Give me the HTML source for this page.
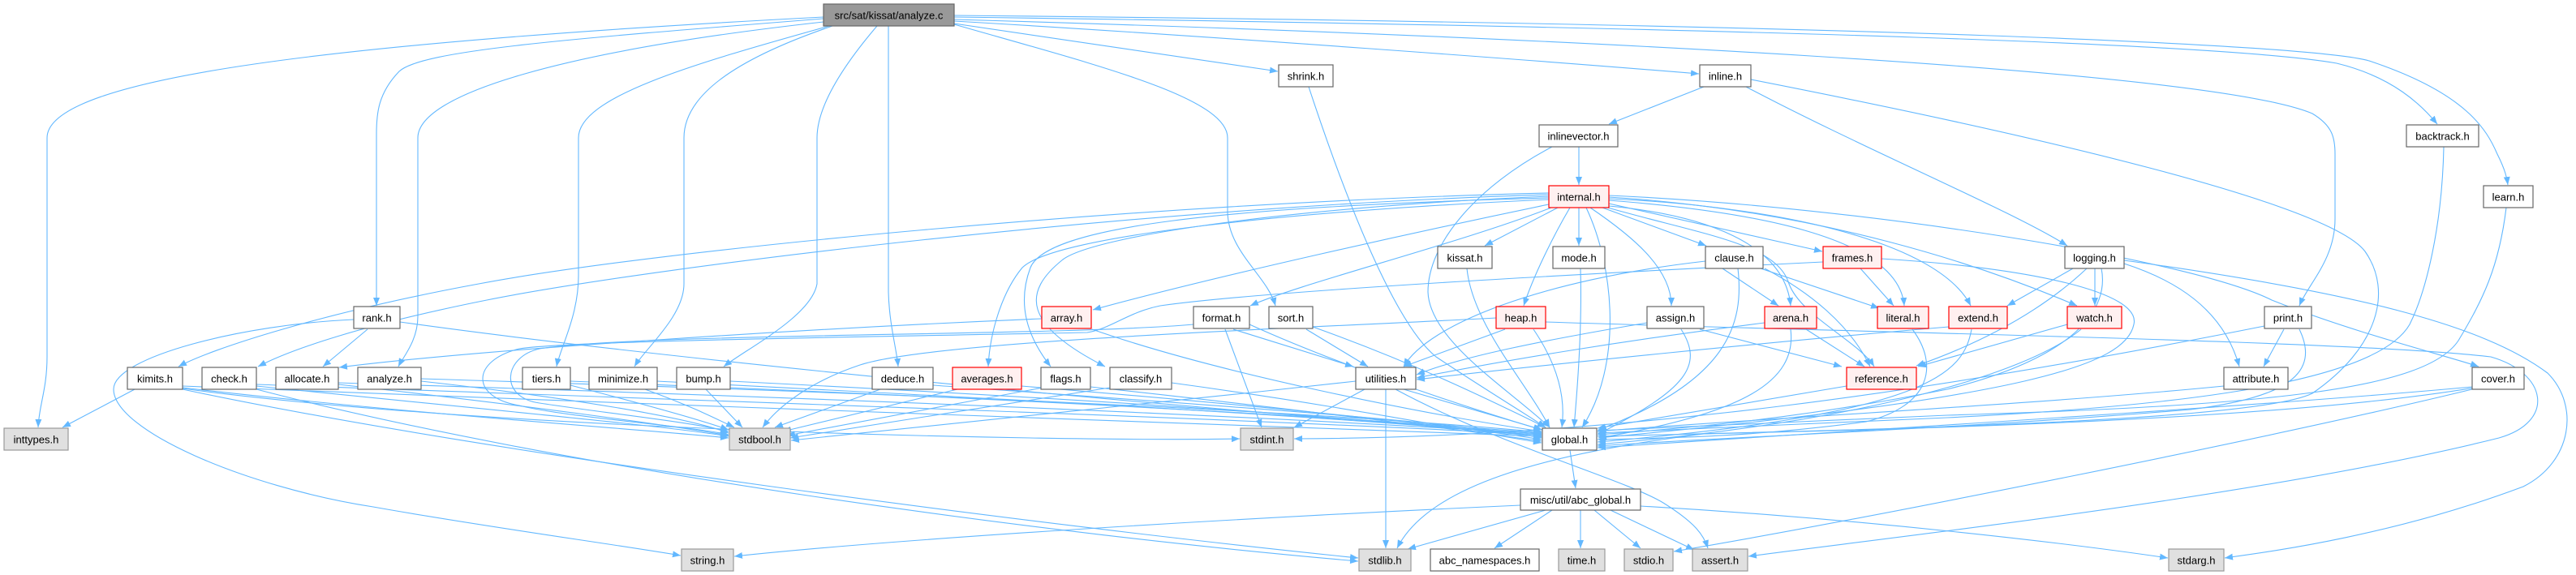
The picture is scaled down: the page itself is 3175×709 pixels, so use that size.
<!DOCTYPE html>
<html><head><meta charset="utf-8"><style>
html,body{margin:0;padding:0;background:#fff;}
svg{display:block;}
text{font-family:"Liberation Sans",Arial,sans-serif;font-size:13px;fill:#000;text-anchor:middle;}
.e{fill:none;stroke:#63B8FF;stroke-width:1.1;marker-end:url(#a);}
.n{fill:#fff;stroke:#666;stroke-width:1.2;}
.r{fill:#FFF0F0;stroke:#ff0000;stroke-width:1.2;}
.g{fill:#E0E0E0;stroke:#999;stroke-width:1.2;}
.m{fill:#999;stroke:#666;stroke-width:1.2;}
</style></head><body>
<svg width="3175" height="709" viewBox="0 0 3175 709" xmlns="http://www.w3.org/2000/svg">
<defs><marker id="a" markerWidth="11" markerHeight="8" refX="10" refY="4" orient="auto" markerUnits="userSpaceOnUse"><path d="M0,0 L10,4 L0,8 z" fill="#63B8FF"/></marker></defs>
<g>
<!-- analyze.c -->
<path class="e" d="M1015,21 C 420,52 58,95 58,170 L 58,440 C 58,480 48,500 47,527"/>
<path class="e" d="M1015,23 C 700,48 520,62 492,88 C 466,115 464,140 464,165 L 464,377"/>
<path class="e" d="M1015,27 C 700,62 515,115 515,170 L 515,390 C 515,420 497,440 491,452"/>
<path class="e" d="M1022,32 C 850,80 713,120 713,170 L 713,340 C 713,390 690,430 686,452"/>
<path class="e" d="M1026,32 C 900,75 843,120 843,170 L 843,350 C 843,390 795,430 782,452"/>
<path class="e" d="M1081,32 C 1040,80 1007,130 1007,170 L 1007,350 C 1000,390 920,430 892,452"/>
<path class="e" d="M1095,32 L 1095,360 C 1096,400 1105,430 1107,452"/>
<path class="e" d="M1176,30 C 1350,80 1513,120 1513,170 L 1513,260 C 1513,310 1562,340 1572,377"/>
<path class="e" d="M1176,29 L 1575,88"/>
<path class="e" d="M1176,26 C 1500,45 1900,75 2094,91"/>
<path class="e" d="M1176,24 C 1900,45 2720,85 2850,140 C 2875,155 2878,170 2878,190 L 2878,270 C 2878,320 2845,350 2834,377"/>
<path class="e" d="M1176,21 C 2200,35 2750,55 2880,78 C 2950,95 2985,130 3004,153"/>
<path class="e" d="M1176,19 C 2300,30 2850,55 2920,75 C 3040,115 3065,160 3078,190 C 3088,210 3090,220 3091,228"/>
<!-- inline.h -->
<path class="e" d="M2100,107 L 1983,153"/>
<path class="e" d="M2152,107 C 2300,185 2480,260 2548,303"/>
<path class="e" d="M2158,98 C 2500,165 2870,250 2915,310 C 2950,360 2930,430 2850,485 C 2780,520 2300,530 1969,538"/>
<!-- inlinevector.h -->
<path class="e" d="M1946,181 L 1946,228"/>
<path class="e" d="M1913,181 C 1820,230 1760,300 1760,360 C 1762,420 1860,480 1910,527"/>
<!-- internal.h -->
<path class="e" d="M1920,256 L 1830,303"/>
<path class="e" d="M1946,256 L 1946,303"/>
<path class="e" d="M1975,256 L 2103,303"/>
<path class="e" d="M1983,251 L 2246,310"/>
<path class="e" d="M1935,256 C 1915,290 1890,340 1878,377"/>
<path class="e" d="M1960,256 C 2010,290 2060,330 2060,377"/>
<path class="e" d="M1983,254 C 2100,265 2200,300 2207,377"/>
<path class="e" d="M1983,247 C 2150,260 2340,290 2347,377"/>
<path class="e" d="M1983,245 C 2200,255 2390,300 2429,377"/>
<path class="e" d="M1983,243 C 2250,260 2450,330 2560,377"/>
<path class="e" d="M1983,241 C 2300,255 2700,320 2800,370 C 2900,410 3020,440 3055,452"/>
<path class="e" d="M1978,255 C 2100,290 2190,300 2205,350 C 2220,390 2290,420 2310,452"/>
<path class="e" d="M1909,252 C 1750,285 1500,340 1347,382"/>
<path class="e" d="M1912,256 C 1800,300 1600,350 1541,377"/>
<path class="e" d="M1909,246 C 1600,260 1300,290 1260,330 C 1235,360 1220,410 1218,452"/>
<path class="e" d="M1909,244 C 1500,255 1290,280 1270,330 C 1255,370 1262,410 1295,452"/>
<path class="e" d="M1909,242 C 1600,255 1350,290 1310,320 C 1260,360 1260,400 1362,452"/>
<path class="e" d="M1909,238 C 1400,250 800,310 590,350 C 400,385 260,430 220,452"/>
<path class="e" d="M1909,240 C 1400,255 800,330 600,370 C 450,400 360,430 318,452"/>
<path class="e" d="M1955,256 C 1990,330 2000,450 1950,527"/>
<!-- row 4 -->
<path class="e" d="M1808,331 C 1815,400 1880,470 1910,527"/>
<path class="e" d="M1948,331 C 1950,400 1945,470 1940,527"/>
<path class="e" d="M2123,331 L 2192,377"/>
<path class="e" d="M2170,331 L 2316,380"/>
<path class="e" d="M2175,331 C 2230,360 2280,400 2305,452"/>
<path class="e" d="M2102,322 C 1900,345 1760,400 1730,452"/>
<path class="e" d="M2142,331 C 2150,400 2130,470 1970,530"/>
<path class="e" d="M2293,331 L 2334,377"/>
<path class="e" d="M2319,319 C 2500,330 2640,360 2630,400 C 2620,450 2500,490 1970,540"/>
<path class="e" d="M2247,323 C 1900,340 1550,360 1430,377 C 1390,385 1370,405 1340,410 C 1100,415 700,420 640,430 C 580,445 580,490 640,500 C 700,515 850,525 898,536"/>
<path class="e" d="M2555,331 L 2474,377"/>
<path class="e" d="M2582,331 L 2582,377"/>
<path class="e" d="M2572,331 C 2520,380 2450,420 2362,451"/>
<path class="e" d="M2618,325 C 2680,345 2740,380 2760,452"/>
<path class="e" d="M2590,331 C 2600,380 2560,440 2400,480 C 2200,520 2050,530 1969,536"/>
<path class="e" d="M2618,321 C 2900,360 3060,400 3140,460 C 3180,500 3170,570 3110,600 C 2950,660 2800,680 2742,688"/>
<!-- row 5 -->
<path class="e" d="M453,406 L 398,452"/>
<path class="e" d="M436,394 C 300,400 140,440 140,480 C 140,530 300,600 460,625 C 600,650 750,670 839,685"/>
<path class="e" d="M493,397 C 800,440 1400,500 1900,535"/>
<path class="e" d="M1284,393 C 1000,405 600,430 418,453"/>
<path class="e" d="M1346,406 C 1500,460 1750,510 1900,532"/>
<path class="e" d="M1520,406 L 1668,452"/>
<path class="e" d="M1510,406 L 1555,527"/>
<path class="e" d="M1540,400 C 1650,450 1800,500 1900,530"/>
<path class="e" d="M1471,400 C 1300,415 800,410 665,430 C 620,440 615,490 665,497 C 750,510 850,520 898,532"/>
<path class="e" d="M1610,406 L 1686,452"/>
<path class="e" d="M1618,403 C 1750,450 1850,500 1905,527"/>
<path class="e" d="M1855,406 L 1730,452"/>
<path class="e" d="M1844,392 C 1600,405 1150,420 1060,450 C 1000,470 960,500 940,527"/>
<path class="e" d="M1890,406 C 1920,450 1930,490 1925,527"/>
<path class="e" d="M1905,397 C 2300,410 2900,420 3070,440 C 3140,460 3150,520 3080,540 C 2800,610 2350,660 2155,686"/>
<path class="e" d="M2030,398 C 1900,420 1800,440 1746,462"/>
<path class="e" d="M2095,406 L 2270,452"/>
<path class="e" d="M2072,406 C 2100,450 2080,480 1970,535"/>
<path class="e" d="M2175,398 C 2000,420 1850,445 1746,466"/>
<path class="e" d="M2226,406 L 2298,452"/>
<path class="e" d="M2207,406 C 2215,470 2150,510 1970,540"/>
<path class="e" d="M2357,406 C 2390,450 2380,500 2300,520 C 2150,540 2050,540 1969,542"/>
<path class="e" d="M2402,403 C 2200,420 1900,450 1746,468"/>
<path class="e" d="M2430,406 C 2420,460 2380,510 1969,545"/>
<path class="e" d="M2548,400 L 2364,452"/>
<path class="e" d="M2565,406 C 2500,460 2300,520 1969,548"/>
<path class="e" d="M2815,406 L 2790,452"/>
<path class="e" d="M2834,406 C 2860,460 2820,490 2700,505 C 2400,530 2100,540 1969,550"/>
<path class="e" d="M2791,402 C 2400,480 2000,540 1595,541"/>
<!-- row 6 -->
<path class="e" d="M166,480 L 77,527"/>
<path class="e" d="M225,478 C 500,510 800,530 898,540"/>
<path class="e" d="M225,476 C 800,500 1500,520 1900,538"/>
<path class="e" d="M225,479 C 600,530 1300,545 1528,541"/>
<path class="e" d="M225,480 C 600,560 1300,650 1674,688"/>
<path class="e" d="M316,476 C 600,505 820,525 898,538"/>
<path class="e" d="M316,474 C 900,495 1500,515 1900,536"/>
<path class="e" d="M316,480 C 700,580 1300,660 1674,692"/>
<path class="e" d="M417,474 C 650,500 830,525 898,537"/>
<path class="e" d="M417,472 C 1000,490 1500,510 1900,535"/>
<path class="e" d="M519,470 C 700,490 850,515 898,534"/>
<path class="e" d="M519,467 C 1100,485 1600,505 1900,533"/>
<path class="e" d="M703,475 C 800,500 870,520 898,530"/>
<path class="e" d="M703,470 C 1200,490 1600,510 1900,534"/>
<path class="e" d="M795,480 C 850,500 880,515 905,527"/>
<path class="e" d="M810,470 C 1200,490 1600,510 1900,537"/>
<path class="e" d="M870,480 L 915,527"/>
<path class="e" d="M900,470 C 1300,490 1700,515 1900,539"/>
<path class="e" d="M1085,480 L 955,527"/>
<path class="e" d="M1150,475 C 1500,500 1800,520 1900,540"/>
<path class="e" d="M1180,480 L 965,532"/>
<path class="e" d="M1259,476 C 1550,500 1800,525 1900,542"/>
<path class="e" d="M1285,478 L 970,537"/>
<path class="e" d="M1344,477 C 1600,505 1800,530 1900,544"/>
<path class="e" d="M1368,478 L 974,540"/>
<path class="e" d="M1444,472 C 1650,500 1800,530 1900,546"/>
<path class="e" d="M1671,470 C 1400,500 1100,530 975,543"/>
<path class="e" d="M1682,480 L 1595,527"/>
<path class="e" d="M1730,480 L 1901,530"/>
<path class="e" d="M1708,480 L 1708,676"/>
<path class="e" d="M1720,480 C 1850,550 2000,590 2050,620 C 2090,645 2100,660 2105,676"/>
<path class="e" d="M2276,476 L 1969,528"/>
<path class="e" d="M2741,476 C 2500,500 2100,520 1969,532"/>
<path class="e" d="M3047,477 C 2800,500 2300,530 1969,552"/>
<path class="e" d="M3047,480 C 2800,540 2300,640 2063,680"/>
<path class="e" d="M3050,478 C 2800,520 2300,530 2100,535 C 1900,560 1760,600 1722,676"/>
<path class="e" d="M3012,181 C 3010,280 2990,360 2970,400 C 2930,470 2700,500 2400,515 C 2200,525 2050,530 1969,534"/>
<path class="e" d="M3089,256 C 3080,330 3060,370 3030,420 C 2990,480 2800,500 2400,512 C 2200,520 2050,527 1969,531"/>
<path class="e" d="M1613,107 C 1660,250 1720,400 1770,440 C 1830,480 1880,510 1905,527"/>
<!-- bottom -->
<path class="e" d="M1935,555 L 1942,602"/>
<path class="e" d="M1905,629 L 1735,677"/>
<path class="e" d="M1913,629 L 1842,676"/>
<path class="e" d="M1948,629 L 1948,676"/>
<path class="e" d="M1965,629 L 2022,676"/>
<path class="e" d="M1985,629 L 2088,678"/>
<path class="e" d="M1874,623 C 1500,640 1100,665 905,686"/>
<path class="e" d="M2022,624 C 2300,640 2550,670 2672,688"/>
</g>
<g>
<rect class="m" x="1015" y="5" width="161" height="27"/><text x="1095.5" y="23.5">src/sat/kissat/analyze.c</text>
<rect class="n" x="1576" y="80" width="67" height="27"/><text x="1609.5" y="98.5">shrink.h</text>
<rect class="n" x="2095" y="80" width="63" height="27"/><text x="2126.5" y="98.5">inline.h</text>
<rect class="n" x="1897" y="154" width="97" height="27"/><text x="1945.5" y="172.5">inlinevector.h</text>
<rect class="n" x="2966" y="154" width="89" height="27"/><text x="3010.5" y="172.5">backtrack.h</text>
<rect class="r" x="1909" y="229" width="74" height="27"/><text x="1946" y="247.5">internal.h</text>
<rect class="n" x="3061" y="229" width="61" height="27"/><text x="3091.5" y="247.5">learn.h</text>
<rect class="n" x="1772" y="304" width="67" height="27"/><text x="1805.5" y="322.5">kissat.h</text>
<rect class="n" x="1914" y="304" width="64" height="27"/><text x="1946" y="322.5">mode.h</text>
<rect class="n" x="2102" y="304" width="71" height="27"/><text x="2137.5" y="322.5">clause.h</text>
<rect class="r" x="2247" y="304" width="72" height="27"/><text x="2283" y="322.5">frames.h</text>
<rect class="n" x="2545" y="304" width="73" height="27"/><text x="2581.5" y="322.5">logging.h</text>
<rect class="n" x="436" y="378" width="57" height="27"/><text x="464.5" y="396.5">rank.h</text>
<rect class="r" x="1284" y="378" width="61" height="27"/><text x="1314.5" y="396.5">array.h</text>
<rect class="n" x="1471" y="378" width="69" height="27"/><text x="1505.5" y="396.5">format.h</text>
<rect class="n" x="1564" y="378" width="54" height="27"/><text x="1591" y="396.5">sort.h</text>
<rect class="r" x="1844" y="378" width="61" height="27"/><text x="1874.5" y="396.5">heap.h</text>
<rect class="n" x="2030" y="378" width="70" height="27"/><text x="2065" y="396.5">assign.h</text>
<rect class="r" x="2175" y="378" width="64" height="27"/><text x="2207" y="396.5">arena.h</text>
<rect class="r" x="2314" y="378" width="63" height="27"/><text x="2345.5" y="396.5">literal.h</text>
<rect class="r" x="2402" y="378" width="72" height="27"/><text x="2438" y="396.5">extend.h</text>
<rect class="r" x="2548" y="378" width="67" height="27"/><text x="2581.5" y="396.5">watch.h</text>
<rect class="n" x="2791" y="378" width="58" height="27"/><text x="2820" y="396.5">print.h</text>
<rect class="n" x="157" y="453" width="68" height="27"/><text x="191" y="471.5">kimits.h</text>
<rect class="n" x="249" y="453" width="67" height="27"/><text x="282.5" y="471.5">check.h</text>
<rect class="n" x="340" y="453" width="77" height="27"/><text x="378.5" y="471.5">allocate.h</text>
<rect class="n" x="441" y="453" width="78" height="27"/><text x="480" y="471.5">analyze.h</text>
<rect class="n" x="644" y="453" width="59" height="27"/><text x="673.5" y="471.5">tiers.h</text>
<rect class="n" x="726" y="453" width="84" height="27"/><text x="768" y="471.5">minimize.h</text>
<rect class="n" x="834" y="453" width="66" height="27"/><text x="867" y="471.5">bump.h</text>
<rect class="n" x="1075" y="453" width="75" height="27"/><text x="1112.5" y="471.5">deduce.h</text>
<rect class="r" x="1174" y="453" width="85" height="27"/><text x="1216.5" y="471.5">averages.h</text>
<rect class="n" x="1283" y="453" width="61" height="27"/><text x="1313.5" y="471.5">flags.h</text>
<rect class="n" x="1368" y="453" width="76" height="27"/><text x="1406" y="471.5">classify.h</text>
<rect class="n" x="1671" y="453" width="74" height="27"/><text x="1708" y="471.5">utilities.h</text>
<rect class="r" x="2276" y="453" width="86" height="27"/><text x="2319" y="471.5">reference.h</text>
<rect class="n" x="2741" y="453" width="79" height="27"/><text x="2780.5" y="471.5">attribute.h</text>
<rect class="n" x="3047" y="453" width="64" height="27"/><text x="3079" y="471.5">cover.h</text>
<rect class="g" x="5" y="528" width="79" height="27"/><text x="44.5" y="546.5">inttypes.h</text>
<rect class="g" x="899" y="528" width="75" height="27"/><text x="936.5" y="546.5">stdbool.h</text>
<rect class="g" x="1529" y="528" width="65" height="27"/><text x="1561.5" y="546.5">stdint.h</text>
<rect class="n" x="1901" y="528" width="67" height="27"/><text x="1934.5" y="546.5">global.h</text>
<rect class="n" x="1874" y="603" width="148" height="26"/><text x="1948" y="621">misc/util/abc_global.h</text>
<rect class="g" x="840" y="677" width="64" height="27"/><text x="872" y="695.5">string.h</text>
<rect class="g" x="1675" y="677" width="64" height="27"/><text x="1707" y="695.5">stdlib.h</text>
<rect class="n" x="1763" y="677" width="134" height="27"/><text x="1830" y="695.5">abc_namespaces.h</text>
<rect class="g" x="1921" y="677" width="57" height="27"/><text x="1949.5" y="695.5">time.h</text>
<rect class="g" x="2002" y="677" width="60" height="27"/><text x="2032" y="695.5">stdio.h</text>
<rect class="g" x="2086" y="677" width="68" height="27"/><text x="2120" y="695.5">assert.h</text>
<rect class="g" x="2673" y="677" width="68" height="27"/><text x="2707" y="695.5">stdarg.h</text>
</g>
</svg>
</body></html>
